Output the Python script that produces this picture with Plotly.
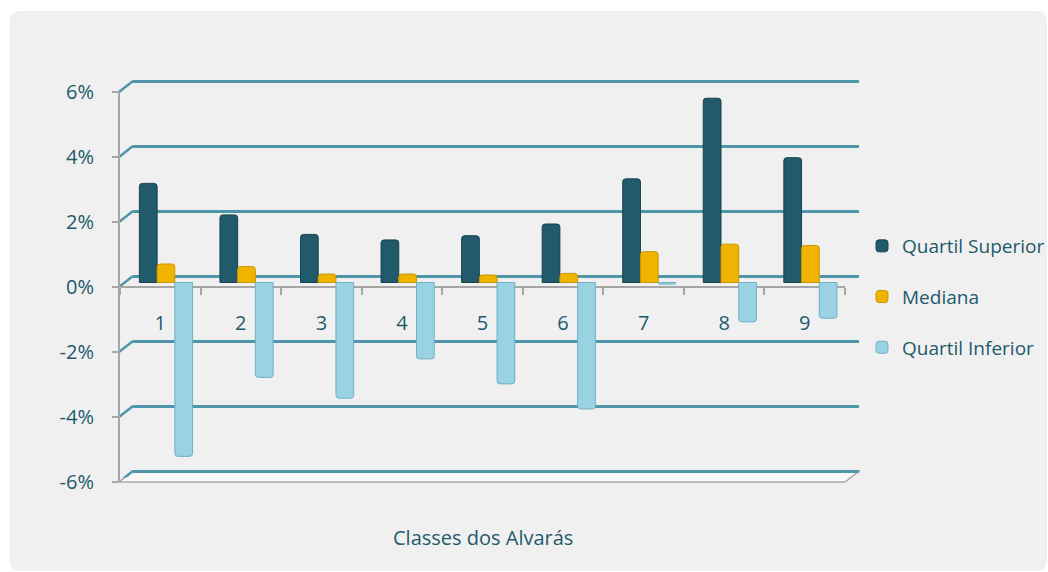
import plotly.graph_objects as go

# ---------------- data ----------------
categories = ['1', '2', '3', '4', '5', '6', '7', '8', '9']
quartil_superior = [3.05, 2.08, 1.48, 1.31, 1.44, 1.80, 3.19, 5.67, 3.84]
mediana = [0.57, 0.49, 0.26, 0.26, 0.23, 0.28, 0.95, 1.18, 1.14]
quartil_inferior = [-5.35, -2.92, -3.56, -2.35, -3.12, -3.89, -0.05, -1.21, -1.10]
series_names = ['Quartil Superior', 'Mediana', 'Quartil Inferior']
y_tickvals = [-6, -4, -2, 0, 2, 4, 6]
y_ticktext = ['-6%', '-4%', '-2%', '0%', '2%', '4%', '6%']
x_title = 'Classes dos Alvarás'

# ---------------- geometry helpers ----------------
W, H = 1048, 572
def px(x):
    return x / W
def py(y):
    return 1 - y / H

FONT = 'Open Sans'
TXT = '#225a6c'
GRID = '#5096aa'
AX = '#a6a6a6'

# front axes box (pixels)
FX0, FX1, FY_TOP, FY_BOT = 120, 845, 92, 482
# bars (mid depth) shift
BDX, BDY = 5.7, -4.5
# back wall shift
GDX, GDY = 14, -11
PX_PER_UNIT = (FY_BOT - FY_TOP) / 12.0
EXT = 0.2  # extra range on the gridline axis so the edge gridlines are drawn

fig = go.Figure()

colors = ['#215a6b', '#f0b400', '#98d2e3']
lines = ['#17424f', '#c99700', '#72b0c4']
for name, vals, c, lc in zip(series_names, [quartil_superior, mediana, quartil_inferior], colors, lines):
    fig.add_trace(go.Bar(
        x=categories, y=vals, name=name, xaxis='x3', yaxis='y3',
        marker=dict(color=c, line=dict(color=lc, width=1)),
        legendgroup=name, hoverinfo='skip'))

# invisible anchors for the other subplots
fig.add_trace(go.Scatter(x=categories, y=[0] * len(categories), xaxis='x', yaxis='y', mode='markers',
                         marker=dict(opacity=0), showlegend=False, hoverinfo='skip'))
fig.add_trace(go.Scatter(x=[0.5], y=[0], xaxis='x2', yaxis='y2', mode='markers',
                         marker=dict(opacity=0), showlegend=False, hoverinfo='skip'))

shapes = []
# chart background
r = 12
x0, x1, y0, y1 = 9.5, 1047, 11, 571
path = (f'M {px(x0)},{py(y0 + r)} Q {px(x0)},{py(y0)} {px(x0 + r)},{py(y0)} '
        f'L {px(x1 - r)},{py(y0)} Q {px(x1)},{py(y0)} {px(x1)},{py(y0 + r)} '
        f'L {px(x1)},{py(y1 - r)} Q {px(x1)},{py(y1)} {px(x1 - r)},{py(y1)} '
        f'L {px(x0 + r)},{py(y1)} Q {px(x0)},{py(y1)} {px(x0)},{py(y1 - r)} Z')
shapes.append(dict(type='path', xref='paper', yref='paper', path=path,
                   fillcolor='#f0f0f0', line=dict(width=0), layer='below'))
# floor
floor = (f'M {px(FX0 - 1)},{py(FY_BOT)} L {px(FX1)},{py(FY_BOT)} '
         f'L {px(FX1 + GDX)},{py(FY_BOT + GDY)} L {px(FX0 - 1 + GDX)},{py(FY_BOT + GDY)} Z')
shapes.append(dict(type='path', xref='paper', yref='paper', path=floor,
                   fillcolor='#f8f8f8', line=dict(color=AX, width=1.5), layer='below'))
# diagonal connectors from front ticks to back gridlines
for v in y_tickvals:
    shapes.append(dict(type='line', xref='paper', yref='y2',
                       x0=px(FX0 - 1), y0=v + GDY / PX_PER_UNIT,
                       x1=px(FX0 - 1 + GDX), y1=v,
                       line=dict(color=GRID, width=2.5), layer='below'))

fig.update_layout(
    width=W, height=H,
    margin=dict(l=0, r=0, t=0, b=0, pad=0, autoexpand=False),
    paper_bgcolor='white',
    plot_bgcolor='rgba(0,0,0,0)',
    font=dict(family=FONT, size=20, color=TXT),
    barmode='group', bargap=0.34, bargroupgap=0,
    barcornerradius=3,
    showlegend=True,
    legend=dict(x=px(862), xanchor='left', y=py(297), yanchor='middle',
                font=dict(family=FONT, size=19, color=TXT),
                bgcolor='rgba(0,0,0,0)', tracegroupgap=23, traceorder='grouped'),
    # front axes
    xaxis=dict(domain=[px(FX0), px(FX1)], anchor='free', position=py(286.7),
               type='category', range=[-0.5, 8.5], showline=True, linecolor=AX, linewidth=2,
               ticks='outside', tickson='boundaries', ticklen=7, tickwidth=2, tickcolor=AX,
               showgrid=False, zeroline=False, ticklabelstandoff=18,
               tickfont=dict(family=FONT, size=20, color=TXT)),
    yaxis=dict(domain=[py(FY_BOT), py(FY_TOP)], anchor='free', position=px(FX0 - 1),
               range=[-6, 6], tickvals=y_tickvals, ticktext=y_ticktext,
               showline=True, linecolor=AX, linewidth=2, ticks='outside', ticklen=6,
               tickwidth=2, tickcolor=AX, showgrid=False, zeroline=False,
               ticklabelstandoff=14, tickfont=dict(family=FONT, size=20, color=TXT)),
    # back wall gridlines
    xaxis2=dict(domain=[px(FX0 - 1 + GDX), px(FX1 + GDX)], anchor='y2', range=[0, 1],
                showgrid=False, showline=False, zeroline=False, showticklabels=False, ticks=''),
    yaxis2=dict(domain=[py(FY_BOT + GDY + EXT * PX_PER_UNIT), py(FY_TOP + GDY - EXT * PX_PER_UNIT)],
                anchor='x2', range=[-6 - EXT, 6 + EXT],
                tickvals=y_tickvals, showgrid=True, gridcolor=GRID, gridwidth=3,
                showline=False, zeroline=False, showticklabels=False, ticks=''),
    # bars
    xaxis3=dict(domain=[px(FX0 + BDX), px(FX1 + BDX)], anchor='y3', type='category',
                range=[-0.5, 8.5], visible=False),
    yaxis3=dict(domain=[py(FY_BOT + BDY), py(FY_TOP + BDY)], anchor='x3', range=[-6, 6],
                visible=False),
    shapes=shapes,
    annotations=[dict(text=x_title, xref='paper', yref='paper', x=px(483), y=py(537),
                      xanchor='center', yanchor='middle',
                      showarrow=False, font=dict(family=FONT, size=20, color=TXT))],
)

fig.write_html('out.html')
